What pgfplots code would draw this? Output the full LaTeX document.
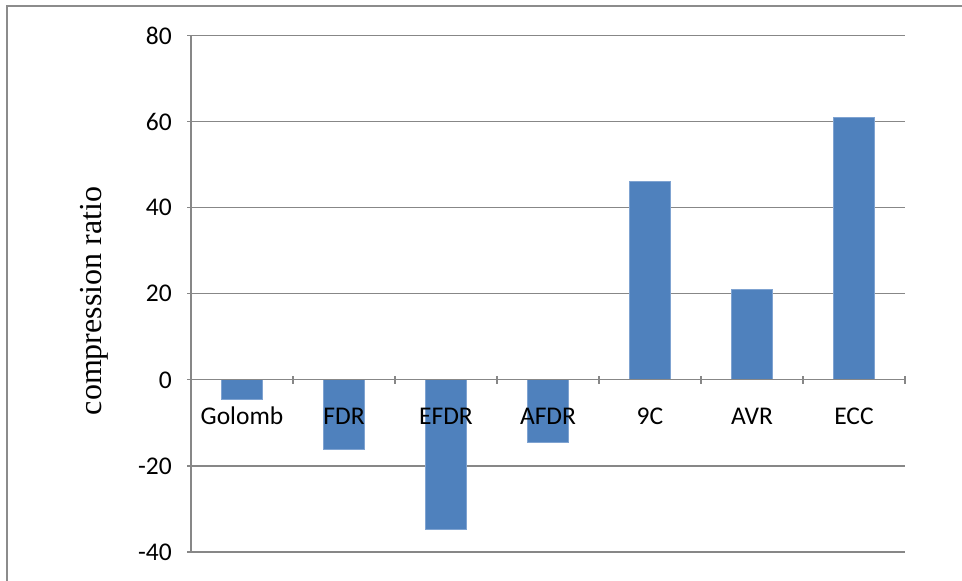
\documentclass[border=0pt]{standalone}
\usepackage{pgfplots}
\pgfplotsset{compat=1.18}
\usepackage{fontspec}
\setmainfont{Carlito}
\newfontfamily\serifl{Liberation Serif}

\definecolor{barblue}{HTML}{4F81BD}
\definecolor{baredge}{HTML}{7FA3D1}
\definecolor{gridgray}{HTML}{878787}
\definecolor{framegray}{HTML}{8C8C8C}

\pgfplotsset{
  frame/.style={
    at={(191bp,29bp)}, anchor=south west,
    scale only axis,
    width=714bp, height=516.5bp,
    xmin=-0.5, xmax=6.5,
    ymin=-40, ymax=80,
    tick align=outside,
    major tick length=8bp,
    minor tick length=8bp,
    tick style={gridgray, line width=1.3bp},
    ticklabel style={font=\fontsize{25.5bp}{30bp}\selectfont, text=black},
    clip=false,
  },
}

\begin{document}
\begin{tikzpicture}
\useasboundingbox (0,0) rectangle (962bp,581bp);
% outer frame (left and top edges)
\draw[framegray, line width=1.3bp] (7bp,0) -- (7bp,575bp) -- (962bp,575bp);

% grid, value axis and bars
\begin{axis}[
  frame,
  axis y line=left,
  axis x line=none,
  axis line style={-, gridgray, line width=1.3bp},
  ytick={-40,-20,0,20,40,60,80},
  yticklabels={-40,-20,0,20,40,60,80},
  ymajorgrids,
  grid style={gridgray, line width=1.3bp},
  yticklabel style={anchor=east, inner sep=0pt, xshift=-15bp},
  every axis y label/.style={at={(rel axis cs:-0.1359,0.486)}, rotate=90, anchor=center},
  ylabel={\serifl\fontsize{32bp}{36bp}\selectfont compression ratio},
]
\addplot[ybar, bar width=40.5bp, fill=barblue, draw=baredge, line width=0.8bp]
  coordinates {(0,-4.5) (1,-16.2) (2,-34.8) (3,-14.5) (4,46.0) (5,21.0) (6,60.9)};
\end{axis}

% category axis at zero, drawn over the bars
\begin{axis}[
  frame,
  axis y line=none,
  axis x line=middle,
  axis line style={-, gridgray, line width=1.3bp},
  xtick={0,1,2,3,4,5,6},
  xticklabels={Golomb,FDR,EFDR,AFDR,9C,AVR,ECC},
  minor xtick={-0.5,0.5,1.5,2.5,3.5,4.5,5.5,6.5},
  major x tick style={draw=none},
  xticklabel style={anchor=base, inner sep=0pt, yshift=-40.5bp},
]
\end{axis}
\end{tikzpicture}
\end{document}
